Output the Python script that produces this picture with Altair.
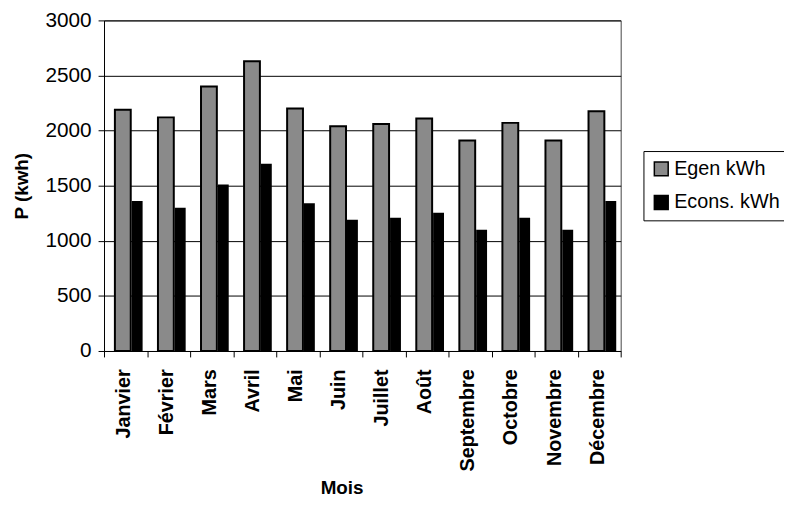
import altair as alt
import pandas as pd

months = ["Janvier", "Février", "Mars", "Avril", "Mai", "Juin", "Juillet",
          "Août", "Septembre", "Octobre", "Novembre", "Décembre"]
egen = [2190, 2120, 2400, 2630, 2200, 2040, 2060, 2110, 1910, 2070, 1910, 2175]
econs = [1360, 1300, 1510, 1700, 1340, 1190, 1210, 1255, 1100, 1210, 1100, 1360]
series = ["Egen kWh", "Econs. kWh"]
y_ticks = [0, 500, 1000, 1500, 2000, 2500, 3000]

df = pd.DataFrame({
    "Mois": months * 2,
    "P": egen + econs,
    "Serie": [series[0]] * 12 + [series[1]] * 12,
})

FONT = "Liberation Sans"

x_enc = alt.X(
    "Mois:N", sort=months,
    scale=alt.Scale(paddingInner=0, paddingOuter=0),
    axis=alt.Axis(
        title="Mois", titleFont=FONT, titleFontSize=19, titleFontWeight="bold",
        titleColor="black", titleX=240, titleY=144, titleAlign="center",
        titleBaseline="alphabetic",
        labelAngle=270, labelFont=FONT, labelFontSize=20, labelFontWeight="bold",
        labelColor="black", labelPadding=12, labelOffset=-2,
        tickBand="extent", tickSize=6, tickColor="black",
        domainColor="black", grid=False,
    ),
)
y_enc = alt.Y(
    "P:Q",
    scale=alt.Scale(domain=[0, 3000], nice=False),
    axis=alt.Axis(
        values=y_ticks, format="d", title="P (kwh)", titleFont=FONT, titleFontSize=19,
        titleFontWeight="bold", titleColor="black", titleAngle=270,
        titleX=-77, titleY=167, titleAlign="center", titleBaseline="alphabetic",
        labelFont=FONT, labelFontSize=21, labelColor="black", labelPadding=7,
        tickSize=6, tickColor="black", domainColor="black",
        grid=True, gridColor="black", gridWidth=1,
    ),
)
color_enc = alt.Color(
    "Serie:N",
    scale=alt.Scale(domain=series, range=["#8a8a8a", "#000000"]),
    legend=alt.Legend(
        title=None, orient="none", legendX=545, legendY=132,
        labelFont=FONT, labelFontSize=20, labelColor="black", labelOffset=3,
        symbolType="square", symbolSize=196, symbolStrokeColor="black",
        symbolStrokeWidth=1.5, strokeColor="black", fillColor="white",
        padding=8, rowPadding=14,
    ),
)

base = alt.Chart(df).encode(x=x_enc, y=y_enc, color=color_enc)

egen_layer = base.transform_filter(alt.datum.Serie == series[0]).mark_bar(
    width=16, xOffset=-2.75, stroke="black", strokeWidth=2
)
econs_layer = base.transform_filter(alt.datum.Serie == series[1]).mark_bar(
    width=11, xOffset=11.75
)

chart = alt.layer(egen_layer, econs_layer).properties(
    width=522, height=334,
    autosize=alt.AutoSizeParams(type="none"),
    padding={"left": 97, "top": 10, "right": 165, "bottom": 146},
    background="white",
).configure_view(stroke="#444", strokeWidth=1)

chart.save("out.html", embed_options={"renderer": "svg", "actions": False})
